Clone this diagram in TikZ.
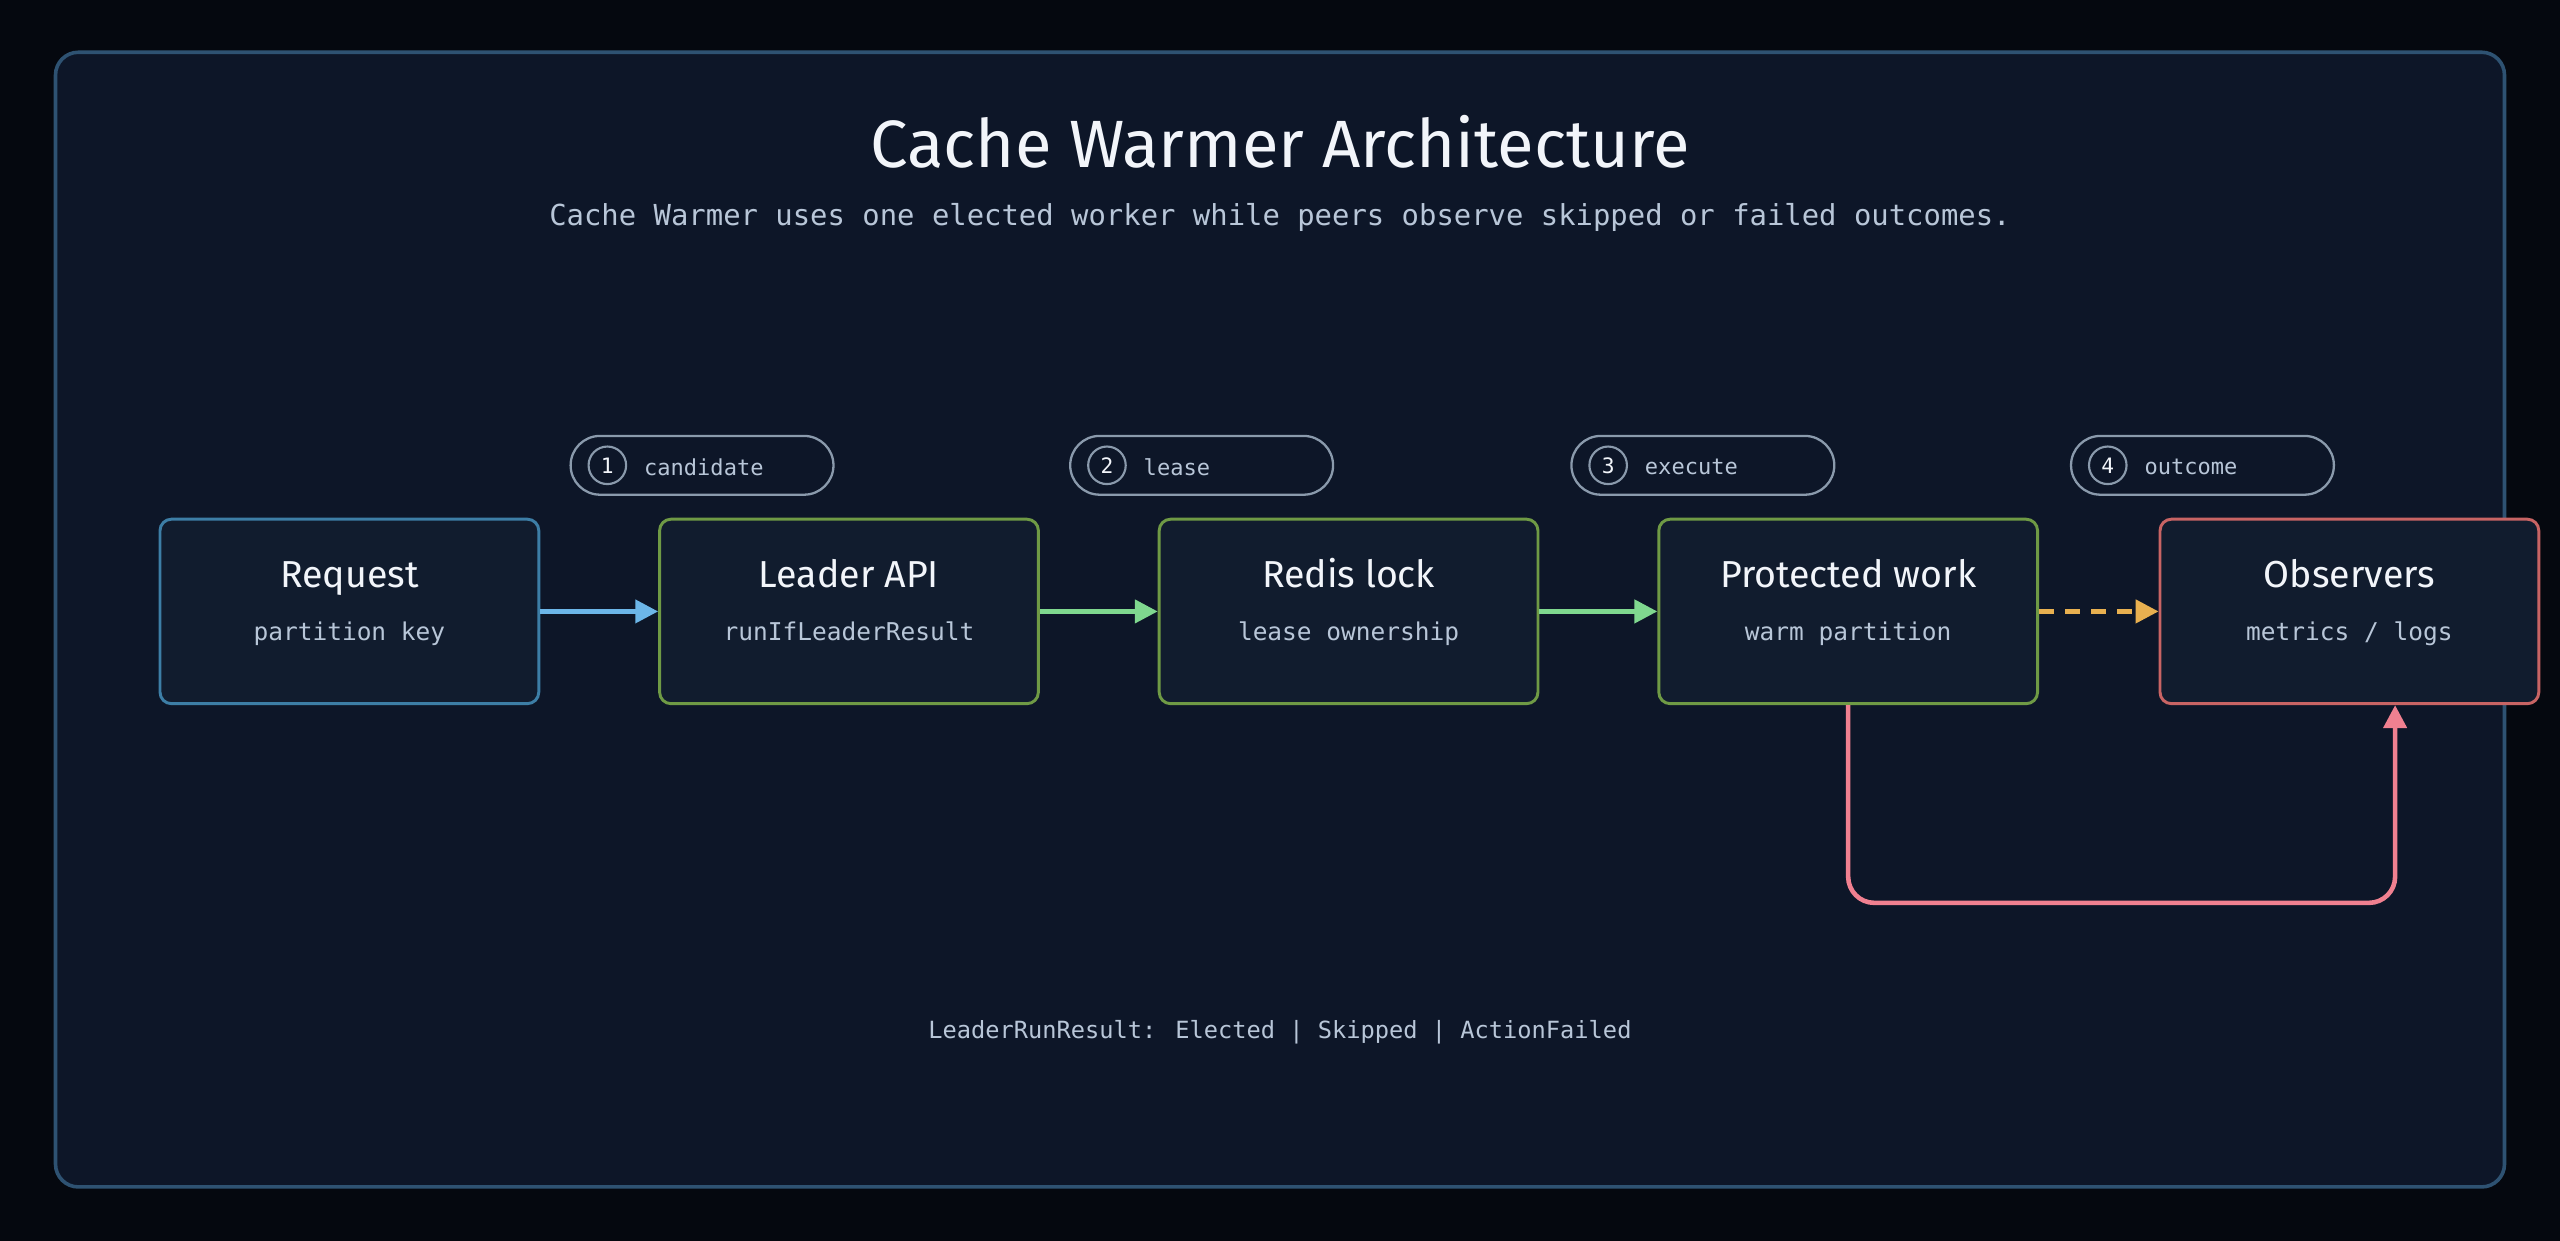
\documentclass[tikz,border=0pt]{standalone}
\usepackage{fontspec}
\setmainfont{Fira Sans}
\newfontfamily\mono{DejaVu Sans Mono}
\usetikzlibrary{arrows.meta}
\definecolor{bgout}{HTML}{05080F}
\definecolor{panel}{HTML}{0D1628}
\definecolor{panelb}{HTML}{2E5272}
\definecolor{boxf}{HTML}{111C2E}
\definecolor{bblue}{HTML}{3D7EA6}
\definecolor{bgreen}{HTML}{6F9A45}
\definecolor{bred}{HTML}{C86464}
\definecolor{ablue}{HTML}{6CB6E8}
\definecolor{agreen}{HTML}{7FD88F}
\definecolor{aorange}{HTML}{E8B050}
\definecolor{ared}{HTML}{F08090}
\definecolor{txt}{HTML}{F2F5FA}
\definecolor{sub}{HTML}{B8C6D8}
\definecolor{pill}{HTML}{8A9AAC}
\tikzset{
 box/.style={draw=#1,line width=1.8pt,fill=boxf,rounded corners=7pt,minimum width=232pt,minimum height=113pt,inner sep=0pt},
 ttl/.style={text=txt,font=\fontsize{23}{26}\selectfont,anchor=base},
 st/.style={text=sub,font=\mono\fontsize{15}{17}\selectfont,anchor=base},
 pl/.style={draw=pill,line width=1.4pt,rounded corners=18pt,minimum width=161pt,minimum height=36pt,inner sep=0pt},
 num/.style={circle,draw=pill,line width=1.3pt,minimum size=23pt,inner sep=0pt,text=txt,font=\mono\fontsize{13}{15}\selectfont},
 plt/.style={text=sub,font=\mono\fontsize{13.5}{15}\selectfont,anchor=west},
 arr/.style={line width=2.8pt,-{Triangle[length=14pt,width=14pt]}},
}
\begin{document}
\begin{tikzpicture}[x=1pt,y=-1pt]
\fill[bgout] (0,0) rectangle (1568,760);
\useasboundingbox (0,0) rectangle (1568,760);
\draw[panelb,fill=panel,line width=2.2pt,rounded corners=14pt] (34,32) rectangle (1534,727);
\node[text=txt,font=\fontsize{41}{46}\selectfont] (title) at (784,87) {Cache Warmer Architecture};
\node[text=sub,font=\mono\fontsize{17.7}{20}\selectfont] (subt) at (784,133) {Cache Warmer uses one elected worker while peers observe skipped or failed outcomes.};
\foreach \n/\x/\c/\t/\s in {req/214/bblue/Request/{partition key}, api/520/bgreen/Leader API/runIfLeaderResult, lock/826/bgreen/Redis lock/{lease ownership}, work/1132/bgreen/Protected work/{warm partition}, obs/1439/bred/Observers/{metrics / logs}}{
 \node[box=\c] (\n) at (\x,374.5) {};
 \node[ttl] (\n t) at (\x,360) {\t};
 \node[st] (\n s) at (\x,392) {\s};
}
\foreach \i/\x/\t in {1/430/candidate,2/736/lease,3/1043/execute,4/1349/outcome}{
 \node[pl] (p\i) at (\x,285) {};
 \node[num] (n\i) at (\x-58,285) {\i};
 \node[plt] (l\i) at (\x-39,286) {\t};
}
\draw[arr,ablue] (req.east) -- (api.west);
\draw[arr,agreen] (api.east) -- (lock.west);
\draw[arr,agreen] (lock.east) -- (work.west);
\draw[arr,aorange,dash pattern=on 9pt off 7pt] (work.east) -- (obs.west);
\coordinate (c1) at (1132,553);
\coordinate (c2) at (1467,553);
\draw[arr,ared,rounded corners=16pt] (work.south) -- (c1) -- (c2) -- (obs.south -| c2);
\node[text=sub,font=\mono\fontsize{14.5}{17}\selectfont] (foot) at (784,632) {LeaderRunResult: Elected | Skipped | ActionFailed};
\end{tikzpicture}
\end{document}
